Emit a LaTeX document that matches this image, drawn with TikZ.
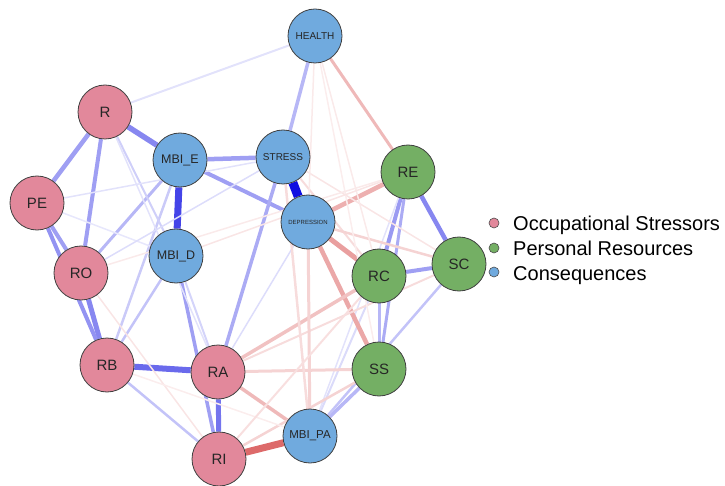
\documentclass[tikz,border=0pt]{standalone}
\usepackage{fontspec}
\setmainfont{Liberation Sans}
\usetikzlibrary{backgrounds}

\begin{document}
\begin{tikzpicture}[x=1pt,y=-1pt]

\definecolor{occ}{RGB}{226,136,155};
\definecolor{pers}{RGB}{116,175,100};
\definecolor{cons}{RGB}{112,170,222};
\definecolor{posc}{RGB}{15,15,225};
\definecolor{negc}{RGB}{215,80,80};
\def\rad{54pt}

\tikzset{var/.style={circle,draw=black!75,line width=.8pt,minimum size=\rad,inner sep=0pt,text=black!85},
  big/.style={font=\fontsize{15}{15}\selectfont},
  mid/.style={font=\fontsize{12.5}{12.5}\selectfont},
  small/.style={font=\fontsize{10}{10}\selectfont},
  dot/.style={circle,draw=black!70,line width=.6pt,minimum size=10pt,inner sep=0pt}}

\useasboundingbox (0,0) rectangle (725,486);

%% nodes
\node[var,small,fill=cons] (HEALTH) at (315,36) {HEALTH};
\node[var,big,fill=occ] (R) at (105,112) {R};
\node[var,mid,fill=cons] (MBIE) at (180,160) {MBI\_E};
\node[var,small,fill=cons] (STRESS) at (283,157) {STRESS};
\node[var,big,fill=pers] (RE) at (408,172) {RE};
\node[var,big,fill=occ] (PE) at (37,203) {PE};
\node[var,fill=cons,font=\fontsize{6}{6}\selectfont] (DEP) at (308,222) {DEPRESSION};
\node[var,mid,fill=cons] (MBID) at (176,256) {MBI\_D};
\node[var,big,fill=occ] (RO) at (81,273) {RO};
\node[var,big,fill=pers] (RC) at (379,276) {RC};
\node[var,big,fill=pers] (SC) at (459,264) {SC};
\node[var,big,fill=occ] (RB) at (107,365) {RB};
\node[var,big,fill=occ] (RA) at (218,372) {RA};
\node[var,big,fill=pers] (SS) at (379,369) {SS};
\node[var,fill=cons,font=\fontsize{11.5}{11.5}\selectfont] (MBIPA) at (310,436) {MBI\_PA};
\node[var,big,fill=occ] (RI) at (219,459) {RI};

%% edges
\begin{scope}[on background layer]
\foreach \a/\b/\w/\s in {STRESS/DEP/9/100, MBIE/MBID/7/78, RB/RA/6/62, R/MBIE/5.5/50,
  RA/RI/5/58, RO/RB/5/50, PE/RB/4/45, PE/R/4.5/40, PE/RO/4/40, MBIE/STRESS/4.5/40,
  MBIE/DEP/4/40, R/RO/4/40, RE/SC/4.5/50, RE/RC/4/42, RE/SS/3/35, RC/SC/4/40,
  RC/SS/3/30, HEALTH/STRESS/3.5/30, MBID/RI/3.5/40, STRESS/RA/3.5/35, MBIPA/SS/3.5/30,
  MBIPA/SC/2.5/25, RB/RI/2.5/25, RO/MBIE/3/30, RB/MBIE/2.5/22, RB/MBID/2.5/25,
  R/MBID/2/20, R/RA/1.5/12, R/HEALTH/2/12, PE/STRESS/1.5/12, PE/MBID/1.5/10,
  RO/STRESS/1.5/14, MBID/RA/2/18, RA/DEP/1.5/14, MBIPA/RC/2/15, RE/MBIPA/1.5/12}
  \draw[line width=\w pt,color=posc!\s!white] (\a) -- (\b);

\foreach \a/\b/\w/\s in {RI/MBIPA/7/85, DEP/RC/5/55, DEP/SS/4.5/50, DEP/RE/4.5/45,
  HEALTH/RE/3/40, RA/MBIPA/3.5/40, RA/RC/3.5/35, RA/SS/3/25, RA/SC/2/20,
  DEP/MBIPA/3/25, STRESS/MBIPA/2.5/20, RI/SS/2.5/25, STRESS/RC/2/20, STRESS/SC/1.5/15,
  DEP/SC/2.5/25, HEALTH/RC/1.5/12, HEALTH/SS/1.5/10, HEALTH/DEP/1.5/12,
  MBID/RE/1.5/15, RO/RE/1.5/12, RO/RI/1.5/15, RB/MBIPA/1.5/10, RI/RC/2/18}
  \draw[line width=\w pt,color=negc!\s!white] (\a) -- (\b);
\end{scope}

%% legend
\node[dot,fill=occ] (kOcc) at (494,223) {};
\node[dot,fill=pers] (kPers) at (494,248) {};
\node[dot,fill=cons] (kCons) at (494,272) {};
\node[anchor=base west,inner sep=0pt,font=\fontsize{20}{20}\selectfont] (lOcc) at (513,231) {Occupational Stressors};
\node[anchor=base west,inner sep=0pt,font=\fontsize{20}{20}\selectfont] (lPers) at (513,255.5) {Personal Resources};
\node[anchor=base west,inner sep=0pt,font=\fontsize{20}{20}\selectfont] (lCons) at (513,280) {Consequences};

\end{tikzpicture}
\end{document}
